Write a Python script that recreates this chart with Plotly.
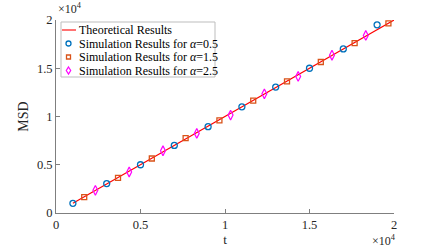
import plotly.graph_objects as go

# data (raw units; axes are labelled in units of 10^4)
theory_t = [1000, 20000]
theory_msd = [1000, 20000]

t_a05 = [1000, 3000, 5000, 7000, 9000, 11000, 13000, 15000, 17000, 19000]
msd_a05 = [1000, 3050, 5000, 7000, 8950, 11000, 13050, 15000, 17000, 19500]

t_a15 = [1670, 3670, 5670, 7670, 9670, 11670, 13670, 15670, 17670, 19670]
msd_a15 = [1650, 3650, 5650, 7750, 9600, 11650, 13650, 15650, 17600, 19650]

t_a25 = [2330, 4330, 6330, 8330, 10330, 12330, 14330, 16330, 18330]
msd_a25 = [2350, 4250, 6450, 8250, 10150, 12350, 14150, 16350, 18400]

tick_vals = [0, 5000, 10000, 15000, 20000]
tick_text = ["0", "0.5", "1", "1.5", "2"]

legend_labels = ["Theoretical Results",
                 "Simulation Results for <i>α</i>=0.5",
                 "Simulation Results for <i>α</i>=1.5",
                 "Simulation Results for <i>α</i>=2.5"]

font_family = "Liberation Serif"
axis_col = "#262626"
line_col = "#7f7f7f"
C_RED, C_BLUE, C_ORANGE, C_MAG = "#FF0000", "#0072BD", "#D95319", "#FF00FF"

W, H = 436, 251
ML, MR, MT, MB = 56, 42, 20, 38
PW, PH = W - ML - MR, H - MT - MB


def px(x):
    return (x - ML) / PW


def py(y):
    return 1 - (y - MT) / PH


fig = go.Figure()
fig.add_trace(go.Scatter(x=theory_t, y=theory_msd, mode="lines",
                         line=dict(color=C_RED, width=1.1),
                         name=legend_labels[0], showlegend=False))
fig.add_trace(go.Scatter(x=t_a05, y=msd_a05, mode="markers",
                         marker=dict(symbol="circle-open", size=6, color=C_BLUE,
                                     line=dict(width=1.3, color=C_BLUE)),
                         name=legend_labels[1], showlegend=False))
fig.add_trace(go.Scatter(x=t_a15, y=msd_a15, mode="markers",
                         marker=dict(symbol="square-open", size=5, color=C_ORANGE,
                                     line=dict(width=1.3, color=C_ORANGE)),
                         name=legend_labels[2], showlegend=False))
fig.add_trace(go.Scatter(x=t_a25, y=msd_a25, mode="markers",
                         marker=dict(symbol="diamond-tall-open", size=7, color=C_MAG,
                                     line=dict(width=1.2, color=C_MAG)),
                         name=legend_labels[3], showlegend=False))

# compact MATLAB-style legend
shapes = []
annotations = []
lx0, lx1, ly0, ly1 = 61, 215, 22, 77
shapes.append(dict(type="rect", xref="paper", yref="paper",
                   x0=px(lx0), x1=px(lx1), y0=py(ly1), y1=py(ly0),
                   line=dict(color="#BDBDBD", width=1), fillcolor="white", layer="above"))
rows = [30, 43.5, 57, 70.5]
mx = px(68.5)
shapes.append(dict(type="line", xref="paper", yref="paper",
                   x0=px(62), x1=px(76), y0=py(rows[0]), y1=py(rows[0]),
                   line=dict(color=C_RED, width=1.1), layer="above"))
shapes.append(dict(type="circle", xref="paper", yref="paper", xsizemode="pixel",
                   ysizemode="pixel", xanchor=mx, yanchor=py(rows[1]),
                   x0=-2.5, x1=2.5, y0=-2.5, y1=2.5,
                   line=dict(color=C_BLUE, width=1.3), layer="above"))
shapes.append(dict(type="rect", xref="paper", yref="paper", xsizemode="pixel",
                   ysizemode="pixel", xanchor=mx, yanchor=py(rows[2]),
                   x0=-2, x1=2, y0=-2, y1=2,
                   line=dict(color=C_ORANGE, width=1.3), layer="above"))
shapes.append(dict(type="path", xref="paper", yref="paper", xsizemode="pixel",
                   ysizemode="pixel", xanchor=mx, yanchor=py(rows[3]),
                   path="M 0 3.5 L 2.2 0 L 0 -3.5 L -2.2 0 Z",
                   line=dict(color=C_MAG, width=1.2), layer="above"))
for lab, ry in zip(legend_labels, rows):
    annotations.append(dict(text=lab, xref="paper", yref="paper", x=px(76.5), y=py(ry),
                            xanchor="left", yanchor="middle", showarrow=False,
                            font=dict(family=font_family, size=12, color="black")))

annotations.append(dict(text="×10<sup>4</sup>", xref="paper", yref="paper", x=px(56), y=py(18),
                        xanchor="left", yanchor="bottom", showarrow=False,
                        font=dict(family=font_family, size=12, color=axis_col)))
annotations.append(dict(text="×10<sup>4</sup>", xref="paper", yref="paper", x=px(398), y=py(231),
                        xanchor="right", yanchor="top", showarrow=False,
                        font=dict(family=font_family, size=12, color=axis_col)))

fig.update_layout(
    width=W, height=H,
    margin=dict(l=ML, r=MR, t=MT, b=MB),
    paper_bgcolor="white", plot_bgcolor="white",
    font=dict(family=font_family, size=12, color=axis_col),
    showlegend=False,
    xaxis=dict(range=[0, 20000], tickvals=tick_vals, ticktext=tick_text, automargin=False,
               showgrid=False, zeroline=False, showline=True, linecolor=line_col,
               linewidth=1, ticks="inside", ticklen=4, tickcolor=line_col,
               tickfont=dict(family=font_family, size=12.5, color=axis_col),
               title=dict(text="t", font=dict(family=font_family, size=13, color=axis_col),
                          standoff=2)),
    yaxis=dict(range=[0, 20000], tickvals=tick_vals, ticktext=tick_text, automargin=False,
               showgrid=False, zeroline=False, showline=True, linecolor=line_col,
               linewidth=1, ticks="inside", ticklen=4, tickcolor=line_col,
               tickfont=dict(family=font_family, size=12.5, color=axis_col),
               title=dict(text="MSD", font=dict(family=font_family, size=14, color=axis_col),
                          standoff=4)),
    shapes=shapes,
    annotations=annotations,
)

fig.write_html("out.html", config={"displayModeBar": False},
               post_script="document.body.style.margin='0';document.body.style.overflow='hidden';")
